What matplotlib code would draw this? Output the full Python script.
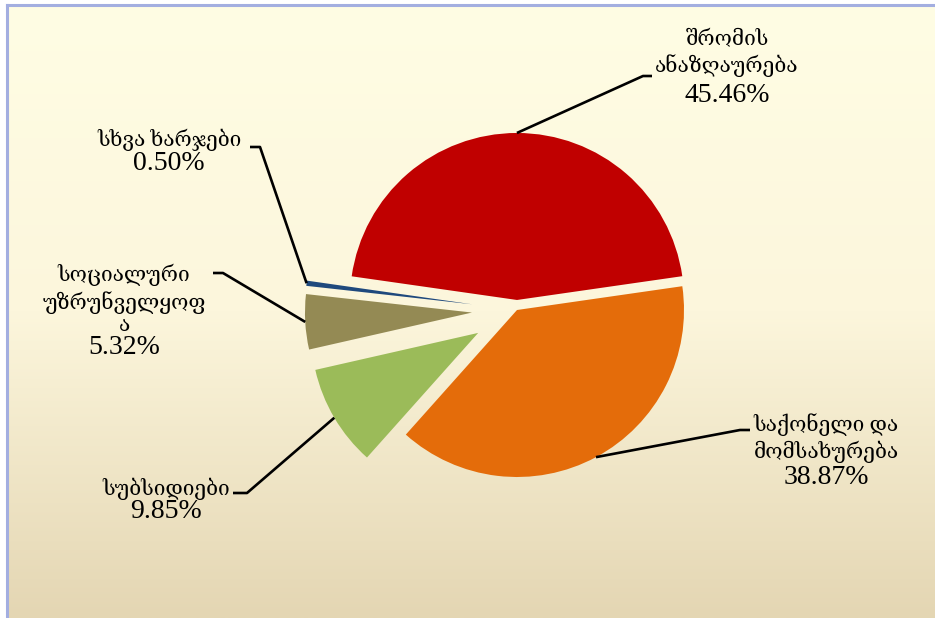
import numpy as np
import matplotlib
matplotlib.use("Agg")
import matplotlib.pyplot as plt
from matplotlib.colors import LinearSegmentedColormap

# ---- data ----
categories = ["შრომის\nანაზღაურება", "საქონელი და\nმომსახურება", "სუბსიდიები",
              "სოციალური\nუზრუნველყოფ\nა", "სხვა ხარჯები"]
values = [45.46, 38.87, 9.85, 5.32, 0.50]
colors = ["#C00000", "#E46C0A", "#9BBB59", "#948A54", "#1F497D"]
explode = [0.06, 0.0, 0.27, 0.27, 0.27]

W, H = 935, 618
fig = plt.figure(figsize=(W / 100, H / 100), dpi=100)
fig.patch.set_facecolor("white")

# background gradient panel
bg = fig.add_axes([8 / W, 0, 1 - 8 / W, 1 - 6 / H])
bg.set_axis_off()
cmap = LinearSegmentedColormap.from_list("bg", ["#FFFDE4", "#FCF6DC", "#E4D6B3"])
grad = np.linspace(0, 1, 256).reshape(-1, 1)
bg.imshow(grad, aspect="auto", cmap=cmap, extent=[0, 1, 0, 1], origin="upper")
bg.set_xlim(0, 1)
bg.set_ylim(0, 1)

# border lines (top and left)
fig.add_artist(plt.Line2D([7 / W, 1], [1 - 5 / H, 1 - 5 / H], transform=fig.transFigure,
                          color="#A3AEE0", lw=2.2))
fig.add_artist(plt.Line2D([7 / W, 7 / W], [0, 1 - 5 / H], transform=fig.transFigure,
                          color="#A3AEE0", lw=2.2))

# pie axes covering the figure, 1 data unit = R pixels
R = 167.0
CX, CY = 517.0, 310.0
ax = fig.add_axes([0, 0, 1, 1])
ax.set_axis_off()
ax.patch.set_alpha(0)

def px(x, y):
    return (x - CX) / R, (CY - y) / R

wedges, _ = ax.pie(values, colors=colors, explode=explode, startangle=171.85,
                   counterclock=False, radius=1.0,
                   wedgeprops=dict(linewidth=0))
ax.set_xlim(-CX / R, (W - CX) / R)
ax.set_ylim(-(H - CY) / R, CY / R)
ax.set_aspect("auto")

fam = ["Liberation Serif", "DejaVu Serif"]
fs_cat = 15.0
fs_val = 20.0

# label layout (px): x center, category block center y, value center y
label_pos = [(727, 54, 95), (826, 438, 478), (166, 489, 511), (124, 300, 347), (169, 140, 163)]
leader_knees = [[(652, 76), (643, 76)],
                [(750, 430), (740, 430)],
                [(233, 493), (247, 493)],
                [(213, 273), (223, 273)],
                [(250, 147), (260, 147)]]

for w, cat, val, (tx, ty_c, ty_v), knees in zip(wedges, categories, values, label_pos, leader_knees):
    mid = np.deg2rad((w.theta1 + w.theta2) / 2)
    cx, cy = w.center
    ex, ey = cx + w.r * np.cos(mid), cy + w.r * np.sin(mid)
    pts = [px(*k) for k in knees] + [(ex, ey)]
    xs, ys = zip(*pts)
    ax.plot(xs, ys, color="black", lw=1.9, solid_capstyle="butt", zorder=5)
    lx, ly = px(tx, ty_c)
    ax.text(lx, ly, cat, ha="center", va="center",
            multialignment="center", fontsize=fs_cat, family=fam, linespacing=1.25,
            color="black")
    vx, vy = px(tx, ty_v)
    ax.text(vx, vy, f"{val:.2f}%", ha="center", va="center",
            fontsize=fs_val, family=fam, color="black")

fig.savefig("out.png", dpi=100)
